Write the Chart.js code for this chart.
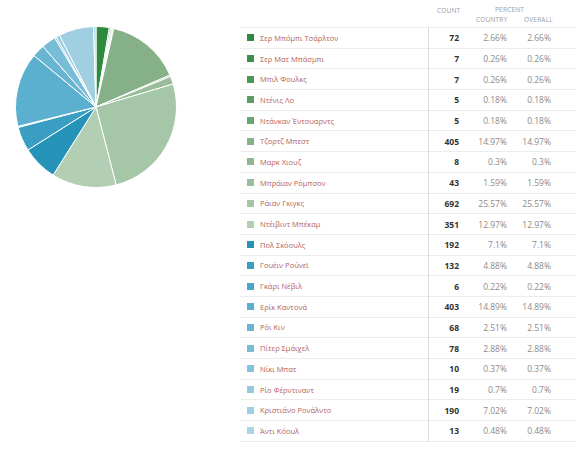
<!DOCTYPE html>
<html>
<head>
<meta charset="utf-8">
<script src="https://cdn.jsdelivr.net/npm/chart.js@4.4.0/dist/chart.umd.min.js"></script>
<style>
  body { margin: 0; background: #fff; font-family: 'Open Sans', sans-serif; width: 580px; height: 451px; overflow: hidden; position: relative; }
  #pieBox { position: absolute; left: 15px; top: 26px; width: 162px; height: 162px; }
  .hdr { position: absolute; color: #9a9a9a; font-size: 6.5px; letter-spacing: 0.2px; }
  table { position: absolute; left: 240px; top: 27px; width: 336px; border-collapse: collapse; table-layout: fixed; }
  td { height: 20.7px; padding: 0; border-top: 1px solid #ececec; font-size: 8.5px; box-sizing: border-box; }
  tr:last-child td { border-bottom: 1px solid #ececec; }
  td.name { color: #b35f5c; font-size: 7.5px; padding-left: 7px; border-right: 1px solid #dcdcdc; }
  td.name i { display: inline-block; width: 7px; height: 7px; margin-right: 6px; vertical-align: -0.5px; }
  td.cnt { text-align: right; padding-right: 4px; font-weight: bold; color: #333; }
  td.pct { text-align: right; padding-right: 4px; color: #8a8a8a; }
</style>
</head>
<body>
<div id="pieBox"><canvas id="pie" width="162" height="162"></canvas></div>
<div class="hdr" style="left:437px;top:6px">COUNT</div>
<div class="hdr" style="left:495px;top:5px">PERCENT</div>
<div class="hdr" style="left:476px;top:15px">COUNTRY</div>
<div class="hdr" style="left:524px;top:15px">OVERALL</div>
<table id="tbl">
  <colgroup><col style="width:188px"><col style="width:35px"><col style="width:48px"><col style="width:44px"><col></colgroup>
  <tbody></tbody>
</table>
<script>
    // Player names, counts and percentages as shown in the table
    const players = ['Σερ Μπόμπι Τσάρλτον', 'Σερ Ματ Μπάσμπι', 'Μπιλ Φουλκς', 'Ντένις Λο', 'Ντάνκαν Έντουαρντς',
        'Τζορτζ Μπεστ', 'Μαρκ Χιουζ', 'Μπράιαν Ρόμπσον', 'Ράιαν Γκιγκς', 'Ντέιβιντ Μπέκαμ',
        'Πολ Σκόουλς', 'Γουέιν Ρούνεϊ', 'Γκάρι Νέβιλ', 'Ερίκ Καντονά', 'Ρόι Κιν',
        'Πίτερ Σμάιχελ', 'Νίκι Μπατ', 'Ρίο Φέρντιναντ', 'Κριστιάνο Ρονάλντο', 'Άντι Κόουλ'];
    const counts = [72, 7, 7, 5, 5, 405, 8, 43, 692, 351, 192, 132, 6, 403, 68, 78, 10, 19, 190, 13];
    const countryPct = ['2.66%', '0.26%', '0.26%', '0.18%', '0.18%', '14.97%', '0.3%', '1.59%', '25.57%', '12.97%',
        '7.1%', '4.88%', '0.22%', '14.89%', '2.51%', '2.88%', '0.37%', '0.7%', '7.02%', '0.48%'];
    const overallPct = ['2.66%', '0.26%', '0.26%', '0.18%', '0.18%', '14.97%', '0.3%', '1.59%', '25.57%', '12.97%',
        '7.1%', '4.88%', '0.22%', '14.89%', '2.51%', '2.88%', '0.37%', '0.7%', '7.02%', '0.48%'];
    const colors = ['#2e8a3e', '#3b8f48', '#4a9753', '#5c9e62', '#6aa66f', '#86b088', '#90b792', '#99bd9b', '#a5c6a7', '#b2cfb3',
        '#2593b8', '#3a9ec2', '#4aa6c8', '#5cb0cf', '#68b5d2', '#78bdd6', '#86c3da', '#93cadd', '#9fcfe0', '#abd5e4'];

    // Table rows
    const tbody = document.querySelector('#tbl tbody');
    players.forEach((p, i) => {
        const tr = document.createElement('tr');
        tr.innerHTML = `
            <td class="name"><i style="background:${colors[i]}"></i>${p}</td>
            <td class="cnt">${counts[i]}</td>
            <td class="pct">${countryPct[i]}</td>
            <td class="pct">${overallPct[i]}</td>
            <td></td>`;
        tbody.appendChild(tr);
    });

    // Pie chart
    new Chart(document.getElementById('pie'), {
        type: 'pie',
        data: {
            labels: players,
            datasets: [{
                data: counts,
                backgroundColor: colors,
                borderColor: '#fff',
                borderWidth: 1,
                hoverOffset: 0
            }]
        },
        options: {
            responsive: false,
            animation: false,
            layout: { padding: 0 },
            plugins: {
                legend: { display: false },
                tooltip: { enabled: false }
            }
        }
    });
</script>
</body>
</html>
